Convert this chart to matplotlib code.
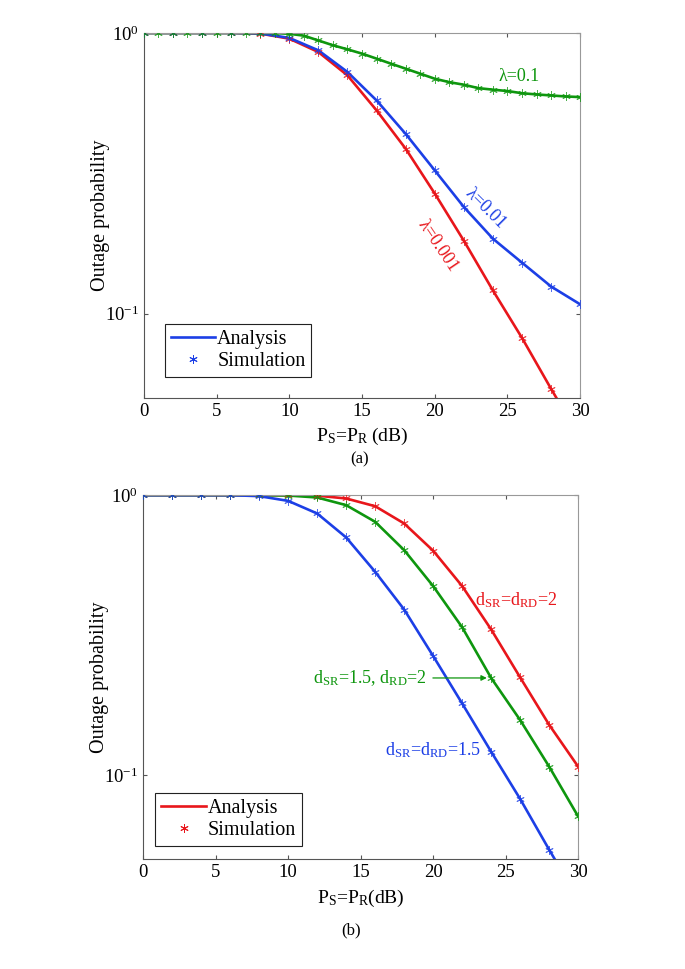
import matplotlib
matplotlib.use('Agg')
import matplotlib.pyplot as plt
from matplotlib.lines import Line2D
import numpy as np

plt.rcParams['font.family'] = ['Liberation Serif', 'DejaVu Serif']
plt.rcParams['mathtext.fontset'] = 'custom'
plt.rcParams['mathtext.rm'] = 'Liberation Serif'
plt.rcParams['mathtext.it'] = 'Liberation Serif:italic'
plt.rcParams['font.size'] = 12

# ---- data (a): outage vs P_S=P_R, different lambda ----
snr_2db = np.arange(0, 31, 2)
snr_1db = np.arange(0, 31, 1)
out_l0001 = [1.0, 1.0, 1.0, 1.0, 0.995, 0.954, 0.855, 0.706, 0.53, 0.387,
             0.268, 0.182, 0.121, 0.082, 0.054, 0.036]
out_l001 = [1.0, 1.0, 1.0, 1.0, 0.996, 0.96, 0.867, 0.726, 0.575, 0.437,
            0.324, 0.240, 0.185, 0.152, 0.125, 0.108]
out_l01 = [1.0, 1.0, 1.0, 1.0, 1.0, 1.0, 1.0, 1.0, 1.0, 0.999, 0.993,
           0.978, 0.94, 0.904, 0.874, 0.844, 0.81, 0.777, 0.746, 0.716,
           0.687, 0.668, 0.654, 0.636, 0.628, 0.621, 0.610, 0.604, 0.599,
           0.594, 0.591]

# ---- data (b): different distances ----
out_d15 = [1.0, 1.0, 1.0, 1.0, 0.992, 0.954, 0.86, 0.706, 0.532, 0.39,
           0.266, 0.18, 0.121, 0.082, 0.054, 0.036]
out_d15_2 = [1.0, 1.0, 1.0, 1.0, 1.0, 0.997, 0.981, 0.921, 0.803, 0.636,
             0.473, 0.337, 0.222, 0.157, 0.107, 0.071]
out_d2 = [1.0, 1.0, 1.0, 1.0, 1.0, 1.0, 0.996, 0.973, 0.913, 0.792,
          0.633, 0.473, 0.331, 0.223, 0.151, 0.107]

red = '#e8161b'
blue = '#1c3fe6'
green = '#0e960e'
star = (6, 2, 0)


def style_axes(ax):
    ax.set_yscale('log')
    ax.set_xlim(0, 30)
    ax.set_ylim(0.05, 1)
    ax.set_xticks(np.arange(0, 31, 5))
    ax.set_yticks([0.1, 1])
    ax.yaxis.set_minor_locator(matplotlib.ticker.NullLocator())
    ax.tick_params(direction='in', top=True, right=True, length=3,
                   width=0.8, labelsize=13.5, color='#555555')
    for s in ['left', 'bottom']:
        ax.spines[s].set_color('#555555')
    for s in ['top', 'right']:
        ax.spines[s].set_color('#999999')
    ax.set_ylabel('Outage probability', fontsize=14.5)
    ax.yaxis.set_label_coords(-0.078, 0.5)


def curve(ax, x, y, c):
    ax.plot(x, y, color=c, lw=1.9, zorder=2)
    ax.plot(x, y, ls='none', marker=star, ms=6, mew=0.7, color=c,
            alpha=0.75, zorder=3)


fig = plt.figure(figsize=(6.85, 9.69), dpi=100)

# (a)
ax1 = fig.add_axes([0.210, 0.589, 0.637, 0.377])
curve(ax1, snr_2db, out_l0001, red)
curve(ax1, snr_2db, out_l001, blue)
curve(ax1, snr_1db, out_l01, green)
style_axes(ax1)
ax1.set_xlabel(r'P$_{\rm S}$=P$_{\rm R}$ (dB)', fontsize=14, labelpad=4)
ax1.text(25.8, 0.70, 'λ=0.1', color=green, fontsize=13, ha='center', va='center')
ax1.text(23.5, 0.237, 'λ=0.01', color=blue, fontsize=13, ha='center',
         va='center', rotation=-45, rotation_mode='anchor')
ax1.text(20.2, 0.175, 'λ=0.001', color=red, fontsize=13, ha='center',
         va='center', rotation=-56, rotation_mode='anchor')
h = [Line2D([], [], color=blue, lw=1.9),
     Line2D([], [], ls='none', marker=star, ms=6, mew=0.7, color=blue)]
leg = ax1.legend(h, ['Analysis', 'Simulation'], loc='lower left',
                 bbox_to_anchor=(0.048, 0.058), fontsize=14.5, fancybox=False,
                 framealpha=1, edgecolor='#222222', handlelength=2.2,
                 handletextpad=0.1, borderpad=0.3, labelspacing=0.15,
                 borderaxespad=0)
leg.get_frame().set_linewidth(0.8)
fig.text(0.525, 1 - 459 / 969, '(a)', ha='center', va='center', fontsize=12)

# (b)
ax2 = fig.add_axes([0.209, 0.1135, 0.635, 0.3755])
curve(ax2, snr_2db, out_d2, red)
curve(ax2, snr_2db, out_d15_2, green)
curve(ax2, snr_2db, out_d15, blue)
style_axes(ax2)
ax2.set_xlabel(r'P$_{\rm S}$=P$_{\rm R}$(dB)', fontsize=14, labelpad=5)
ax2.text(25.7, 0.42, r'd$_{\rm SR}$=d$_{\rm RD}$=2', color=red, fontsize=13,
         ha='center', va='center')
ax2.text(20.0, 0.123, r'd$_{\rm SR}$=d$_{\rm RD}$=1.5', color=blue, fontsize=13,
         ha='center', va='center')
ax2.annotate(r'd$_{\rm SR}$=1.5, d$_{\rm RD}$=2', xy=(23.7, 0.222),
             xytext=(19.6, 0.222), color=green, fontsize=13, ha='right',
             va='center',
             arrowprops=dict(arrowstyle='-|>', color=green, lw=0.9,
                             mutation_scale=8, shrinkA=2, shrinkB=0))
h = [Line2D([], [], color=red, lw=1.9),
     Line2D([], [], ls='none', marker=star, ms=6, mew=0.7, color=red)]
leg = ax2.legend(h, ['Analysis', 'Simulation'], loc='lower left',
                 bbox_to_anchor=(0.028, 0.036), fontsize=14.5, fancybox=False,
                 framealpha=1, edgecolor='#222222', handlelength=2.2,
                 handletextpad=0.1, borderpad=0.3, labelspacing=0.15,
                 borderaxespad=0)
leg.get_frame().set_linewidth(0.8)
fig.text(0.512, 1 - 930 / 969, '(b)', ha='center', va='center', fontsize=12)

fig.savefig('out.png', dpi=100)
